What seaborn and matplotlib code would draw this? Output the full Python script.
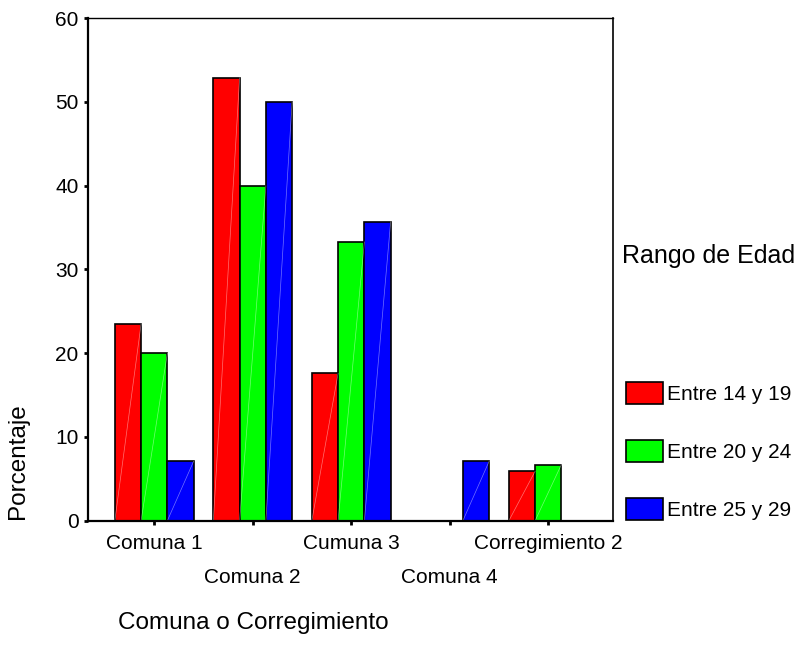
import pandas as pd
import numpy as np
import matplotlib.pyplot as plt
import seaborn as sns
from matplotlib.patches import Patch

# Data
comunas = ["Comuna 1", "Comuna 2", "Cumuna 3", "Comuna 4", "Corregimiento 2"]
edades = ["Entre 14 y 19", "Entre 20 y 24", "Entre 25 y 29"]
pct_14_19 = [23.5, 52.9, 17.6, 0.0, 5.9]
pct_20_24 = [20.0, 40.0, 33.3, 0.0, 6.7]
pct_25_29 = [7.1, 50.0, 35.7, 7.1, 0.0]
colores = ["#ff0000", "#00ff00", "#0000ff"]

df = pd.DataFrame({
    "comuna": comunas * 3,
    "edad": np.repeat(edades, len(comunas)),
    "pct": pct_14_19 + pct_20_24 + pct_25_29,
})

sns.set_style("white")
plt.rcParams["font.family"] = ["Liberation Sans", "DejaVu Sans"]
plt.rcParams["text.color"] = "black"
plt.rcParams["xtick.color"] = "black"
plt.rcParams["ytick.color"] = "black"

fig = plt.figure(figsize=(8.04, 6.57), dpi=100)
ax = fig.add_axes([0.110, 0.2075, 0.6524, 0.7647])

sns.barplot(data=df, x="comuna", y="pct", hue="edad", order=comunas,
            hue_order=edades, palette=colores, saturation=1,
            edgecolor="black", linewidth=1.2, width=0.8, ax=ax, legend=False)

# faint diagonal stroke inside each bar (SPSS look)
for p in ax.patches:
    h = p.get_height()
    if h > 0:
        x0 = p.get_x()
        ax.plot([x0, x0 + p.get_width()], [0, h], color="white",
                lw=0.5, alpha=0.45, zorder=p.get_zorder() + 0.1)

ax.set_ylim(0, 60)
ax.set_yticks(range(0, 61, 10))
ax.set_xlim(-0.668, 4.657)

# staggered category labels: two rows
ax.set_xticks([0, 2, 4])
ax.set_xticklabels([comunas[0], comunas[2], comunas[4]])
ax.set_xticks([1, 3], minor=True)
ax.set_xticklabels([comunas[1], comunas[3]], minor=True)

ax.tick_params(axis="both", which="both", direction="out", length=3, width=2,
               color="black", labelcolor="black", labelsize=15,
               bottom=True, left=True)
ax.tick_params(axis="x", which="major", pad=6.5)
ax.tick_params(axis="x", which="minor", pad=31)
ax.tick_params(axis="y", pad=4)

ax.set_xlabel("")
ax.set_ylabel("")
for side, lw in [("left", 1.6), ("bottom", 1.6), ("top", 1.0), ("right", 1.2)]:
    ax.spines[side].set_color("black")
    ax.spines[side].set_linewidth(lw)

fig.text(118 / 804, 1 - 623 / 657, "Comuna o Corregimiento", fontsize=17.5,
         ha="left", va="center", color="black")
fig.text(18 / 804, 1 - 461 / 657, "Porcentaje", fontsize=17.5, rotation=90,
         ha="center", va="center", color="black")
fig.text(622 / 804, 1 - 256 / 657, "Rango de Edad", fontsize=18,
         ha="left", va="center", color="black")

handles = [Patch(facecolor=c, edgecolor="black", linewidth=1.2) for c in colores]
ax.legend(handles, edades, loc="upper left",
          bbox_to_anchor=(626 / 804, 1 - 381.7 / 657),
          bbox_transform=fig.transFigure, frameon=False, fontsize=15,
          handlelength=1.76, handleheight=1.25, handletextpad=0.2,
          labelspacing=1.74, borderpad=0, borderaxespad=0,
          labelcolor="black")

fig.savefig("out.png", dpi=100)
